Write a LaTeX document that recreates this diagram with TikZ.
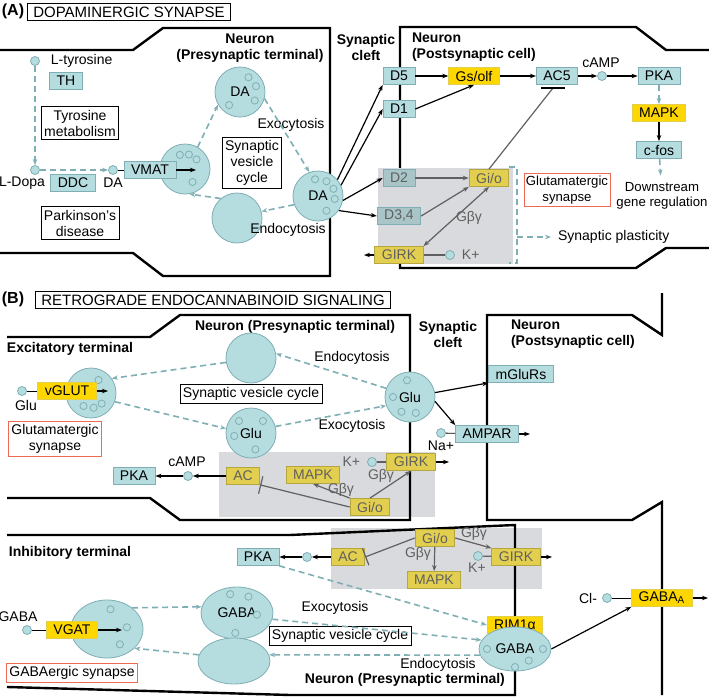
\documentclass[tikz,border=0pt]{standalone}
\usepackage{fontspec}
\setmainfont{Liberation Sans}
\usetikzlibrary{shapes.geometric,arrows.meta,positioning}
\definecolor{tealfill}{HTML}{B5DCDF}
\definecolor{tealline}{HTML}{7FAFB4}
\definecolor{gold}{HTML}{FFD700}
\definecolor{dimgold}{HTML}{E3CF4F}
\definecolor{dimteal}{HTML}{A9C5C8}
\definecolor{greyarea}{HTML}{D9DADD}
\definecolor{redline}{HTML}{EE6A52}
\definecolor{dimtext}{HTML}{606060}
\tikzset{
  box/.style={draw=tealline,fill=tealfill,inner xsep=3.5pt,inner ysep=0.6pt,minimum height=8.5pt},
  ybox/.style={box,fill=gold,draw=dimgold},
  gybox/.style={box,fill=dimgold,draw=dimgold!80!black,text=dimtext},
  gtbox/.style={box,fill=dimteal,draw=tealline,text=dimtext},
  dot/.style={circle,fill=tealfill,draw=tealline,inner sep=0pt,minimum size=4.5pt},
  ves/.style={circle,fill=tealfill,draw=tealline,inner sep=0pt,minimum size=25pt},
  oves/.style={ellipse,fill=tealfill,draw=tealline,inner sep=0pt,minimum width=36pt,minimum height=26pt},
  frame/.style={draw=black,fill=white,align=center,inner sep=1.5pt},
  rframe/.style={frame,draw=redline},
  ttl/.style={font=\fontsize{7}{8}\selectfont\bfseries,align=center},
  flow/.style={-{Stealth[length=3pt,open]},dashed,tealline,thick,dash pattern=on 3pt off 2pt},
  act/.style={-{Stealth[length=3pt]},semithick},
  gact/.style={act,dimtext},
  mem/.style={line width=1.2pt},
}
\newcommand{\vesdots}[3][7.5pt]{\foreach \ang in {#3} \draw[tealline,fill=tealfill] ([shift={(\ang:#1)}]#2.center) circle (1.8pt);}
\begin{document}
\begin{tikzpicture}[x=0.5pt,y=-0.5pt,font=\fontsize{7}{8}\selectfont]
\useasboundingbox (0,0) rectangle (709,697);

% ---------- panel A ----------
\node[font=\bfseries\fontsize{8}{9}\selectfont] (alab) at (13,11) {(A)};
\node[frame,font=\fontsize{7.5}{8.5}\selectfont,inner xsep=3pt] (atitle) at (129,12) {DOPAMINERGIC SYNAPSE};
\draw[mem] (0,50) -- (133,50) -- (163,28) -- (330,28) -- (330,276) -- (163,276) -- (133,253) -- (0,253);
\draw[mem] (709,50) -- (666,50) -- (636,27) -- (400,27) -- (400,268) -- (636,268) -- (666,248) -- (709,248);
\fill[greyarea] (378,168) rectangle (513,264);
\node[ttl] (apre) at (250,48) {Neuron\\(Presynaptic terminal)};
\node[ttl] (acleft) at (366,47) {Synaptic\\cleft};
\node[ttl,align=left,anchor=west] (apost) at (405,47) {Neuron\\(Postsynaptic cell)};

\node[dot] (tyr) at (35,61) {};
\node[right=2pt of tyr] (tyrl) {L-tyrosine};
\node[box,minimum width=16pt] (th) at (66,81) {TH};
\node[frame] (tyrmet) at (80,123) {Tyrosine\\metabolism};
\node[dot] (dopa) at (35,170) {};
\node (dopal) at (22,183) {L-Dopa};
\node[box] (ddc) at (73,183) {DDC};
\node[dot] (dadot) at (113,170) {};
\node (dal) at (113,183) {DA};
\node[frame] (park) at (80,223) {Parkinson's\\disease};
\node[ves] (vfill) at (185,169) {};
\vesdots{vfill}{40,75,110,-60}
\node[box] (vmat) at (150,170) {VMAT};
\coordinate (vmatend) at (196,170);
\node[ves] (vtop) at (240,92) {DA};
\vesdots[8.5pt]{vtop}{60,20,-30,-130}
\node[frame] (asvc) at (252,163) {Synaptic\\vesicle\\cycle};
\node[ves] (vempty) at (237,218) {};
\node[ves] (vrel) at (318,196) {DA};
\vesdots[8.5pt]{vrel}{60,100,25,-10,-60}
\node (aexo) at (291,125) {Exocytosis};
\node (aendo) at (288,230) {Endocytosis};

\draw[flow] (tyr) -- (dopa);
\draw[flow] (dopa) -- (dadot);
\draw (dadot) -- (vmat);
\draw[act] (vmat) -- (vmatend);
\draw[flow] (vfill.60) -- (vtop.210);
\draw[flow] (vtop.-15) -- (vrel.110);
\draw[flow] (vrel.200) -- (vempty.15);
\draw[flow] (vempty.130) -- (vfill.-80);

\node[box] (d5) at (399,76) {D5};
\node[box] (d1) at (399,109) {D1};
\node[gtbox] (d2) at (399,178) {D2};
\node[gtbox] (d34) at (399,216) {D3,4};
\node[gybox] (girka) at (399,255) {GIRK};
\node[dot] (ka) at (450,255) {};
\node[right=0pt of ka,text=dimtext] (kal) {K+};
\coordinate (girkout) at (364,255);
\node[ybox] (gsolf) at (474,76) {Gs/olf};
\node[box] (ac5) at (557,76) {AC5};
\node[dot] (campa) at (602,76) {};
\node (campal) at (601,63) {cAMP};
\node[box] (pkaa) at (659,76) {PKA};
\node[ybox] (mapka) at (659,113) {MAPK};
\node[box] (cfos) at (659,150) {c-fos};
\node[align=center,font=\fontsize{6.6}{7.6}\selectfont] (down) at (662,196) {Downstream\\gene regulation};
\node[gybox] (gioa) at (489,178) {Gi/o};
\node[text=dimtext] (gbga) at (469,218) {Gβγ};
\coordinate (acbar) at (553,88);
\node[rframe,font=\fontsize{6.6}{7.6}\selectfont,inner xsep=1pt] (glua) at (567,190) {Glutamatergic\\synapse};
\coordinate (brtop) at (517,167);
\coordinate (brbot) at (517,263);
\coordinate (brmid) at (517,237);
\node[anchor=west] (plast) at (551,237) {Synaptic plasticity};

\draw[act] (vrel.40) -- (d5.south west);
\draw[act] (vrel.25) -- (d1.west);
\draw[act] (vrel.-10) -- (d2.west);
\draw[act] (vrel.-35) -- (d34.west);
\draw[act] (d5) -- (gsolf);
\draw[act] (d1.east) -- (gsolf.south);
\draw[act] (gsolf) -- (ac5);
\draw[act] (ac5) -- (campa);
\draw[act] (campa) -- (pkaa);
\draw[flow] (pkaa) -- (mapka);
\draw[act] (mapka) -- (cfos);
\draw[flow] (cfos) -- (down);
\draw[gact] (d2) -- (gioa);
\draw[gact] (d34.east) -- (gioa.south west);
\draw[dimtext,semithick] (gioa.north) -- (acbar);
\draw[semithick] ([xshift=-6pt]acbar) -- ([xshift=6pt]acbar);
\draw[gact,{Stealth[length=3pt]}-{Stealth[length=3pt]}] (gioa.south) -- (girka.north east);
\draw[dimtext,semithick] (ka) -- (girka);
\draw[act] (girka) -- (girkout);
\draw[tealline,thick,dash pattern=on 3pt off 2pt] ([xshift=-4]brtop) -- (brtop) -- (brbot) -- ([xshift=-4]brbot);
\draw[flow] (brmid) -- (plast);

% ---------- panel B ----------
\node[font=\bfseries\fontsize{8}{9}\selectfont] (blab) at (13,299) {(B)};
\node[frame,font=\fontsize{7.5}{8.5}\selectfont,inner xsep=3pt] (btitle) at (213,300) {RETROGRADE ENDOCANNABINOID SIGNALING};
\fill[greyarea] (219,452) rectangle (435,517);
\fill[greyarea] (331,528) rectangle (542,589);
\draw[mem] (7,337) -- (150,337) -- (180,315) -- (410,315) -- (410,520) -- (180,520) -- (150,498) -- (7,498);
\draw[mem] (662,293) -- (662,335) -- (632,315) -- (487,315) -- (487,520) -- (632,520) -- (662,502) -- (662,695);
\draw[mem] (7,535) -- (290,535) -- (515,525) -- (515,695) -- (290,695) -- (7,687);
\node[ttl] (bpre) at (295,327) {Neuron (Presynaptic terminal)};
\node[ttl] (bcleft) at (448,334) {Synaptic\\cleft};
\node[ttl,align=left,anchor=west] (bpost) at (504,334) {Neuron\\(Postsynaptic cell)};
\node[ttl] (exterm) at (70,349) {Excitatory terminal};

\node[dot] (gludot) at (22,391) {};
\node (glul) at (26,405) {Glu};
\node[ves] (vglu1) at (91,393) {};
\vesdots{vglu1}{60,-45,-80,-120}
\node[ybox] (vglut) at (67,391) {vGLUT};
\coordinate (vglutend) at (108,391);
\node[rframe] (glub) at (55,439) {Glutamatergic\\synapse};
\node[ves] (vglu2) at (251,358) {};
\node[frame] (bsvc) at (251,394) {Synaptic vesicle cycle};
\node[ves] (vglu3) at (251,433) {Glu};
\vesdots[8.5pt]{vglu3}{45,135,190,-75}
\node[ves] (vglu4) at (410,397) {Glu};
\vesdots[8.5pt]{vglu4}{100,180,-120,-70}
\node (bendo) at (352,358) {Endocytosis};
\node (bexo) at (352,426) {Exocytosis};
\node[box] (mglur) at (521,374) {mGluRs};
\node[box] (ampar) at (487,434) {AMPAR};
\coordinate (amparend) at (530,434);
\node[dot] (nadot) at (441,433) {};
\node (nal) at (441,446) {Na+};

\node[box] (pkab) at (134,476) {PKA};
\node[dot] (campb) at (188,476) {};
\node (campbl) at (187,462) {cAMP};
\node[gybox] (acb) at (243,476) {AC};
\node[gybox] (mapkb) at (313,475) {MAPK};
\node[gybox] (girkb) at (411,462) {GIRK};
\coordinate (girkbend) at (449,462);
\node[dot] (kb) at (372,462) {};
\node[left=0pt of kb,text=dimtext] (kbl) {K+};
\node[gybox] (giob) at (370,507) {Gi/o};
\node[text=dimtext] (gbgb1) at (341,490) {Gβγ};
\node[text=dimtext] (gbgb2) at (381,476) {Gβγ};

\draw (gludot) -- (vglut);
\draw[act] (vglut) -- (vglutend);
\draw[flow] (vglu4.160) -- (vglu2.10);
\draw[flow] (vglu2.190) -- (vglu1.35);
\draw[flow] (vglu1.-20) -- (vglu3.170);
\draw[flow] (vglu3.15) -- (vglu4.200);
\draw[act] (vglu4.10) -- (mglur.south west);
\draw[act] (vglu4.-10) -- (ampar.north west);
\draw (nadot) -- (ampar);
\draw[act] (ampar) -- (amparend);
\draw[act] (acb) -- (campb);
\draw[act] (campb) -- (pkab);
\draw[dimtext,semithick,-{Bar[width=9pt]}] (giob.west) -- (acb.south east);
\draw[gact] (giob.north west) -- (mapkb.south);
\draw[gact] (giob.north) -- (girkb.south);
\draw[dimtext,semithick] (kb) -- (girkb);
\draw[act] (girkb) -- (girkbend);

\node[ttl] (inhterm) at (70,553) {Inhibitory terminal};
\node[box] (pkac) at (258,557) {PKA};
\node[dot] (campc) at (307,557) {};
\node[gybox] (acc) at (348,557) {AC};
\node[gybox] (gioc) at (435,538) {Gi/o};
\node[text=dimtext] (gbgc1) at (474,534) {Gβγ};
\node[text=dimtext] (gbgc2) at (418,554) {Gβγ};
\node[gybox] (girkc) at (516,557) {GIRK};
\coordinate (girkcend) at (552,557);
\node[dot] (kc) at (478,556) {};
\node[text=dimtext] (kcl) at (477,568) {K+};
\node[gybox] (mapkc) at (434,580) {MAPK};

\node (gabal) at (18,617) {GABA};
\node[dot] (gabadot) at (27,630) {};
\node[oves,minimum height=29pt] (vgaba1) at (107,629) {};
\vesdots[10pt]{vgaba1}{80,5,-50}
\node[ybox] (vgat) at (72,630) {VGAT};
\coordinate (vgatend) at (122,630);
\node[rframe] (gabaerg) at (72,673) {GABAergic synapse};
\node[oves] (vgaba2) at (237,613) {GABA};
\vesdots[10pt]{vgaba2}{110,55,-5,-95}
\node[frame] (csvc) at (340,636) {Synaptic vesicle cycle};
\node[oves,minimum height=23pt] (vgaba3) at (234,661) {};
\node (cexo) at (335,608) {Exocytosis};
\node (cendo) at (438,665) {Endocytosis};
\node[ttl,anchor=east] (cpre) at (512,680) {Neuron (Presynaptic terminal)};
\node[ybox,minimum width=24pt] (rim) at (515,625) {RIM1α};
\node[oves,minimum height=22pt] (vgaba4) at (515,649) {GABA};
\vesdots[14pt]{vgaba4}{0,180}
\vesdots[9pt]{vgaba4}{-90,-40}
\node (cll) at (588,598) {Cl-};
\node[dot] (cldot) at (607,598) {};
\node[ybox,minimum width=30pt] (gabaa) at (662,598) {GABA\textsubscript{A}};
\coordinate (gabaaend) at (708,598);

\draw[act] (acc) -- (campc);
\draw[act] (campc) -- (pkac);
\draw[dimtext,semithick,-{Bar[width=9pt]}] (gioc.west) -- (acc.east);
\draw[gact] (gioc) -- (mapkc);
\draw[gact] (gioc.east) -- (girkc.north west);
\draw[dimtext,semithick] (kc) -- (girkc);
\draw[act] (girkc) -- (girkcend);
\draw (gabadot) -- (vgat);
\draw[act] (vgat) -- (vgatend);
\draw[flow] (vgaba1.40) -- (vgaba2.170);
\draw[flow] (vgaba2.-10) -- (vgaba4.165);
\draw[flow] (pkac.south east) -- (rim.west);
\draw[flow] (vgaba4.190) -- (vgaba3.10);
\draw[flow] (vgaba3.170) -- (vgaba1.-35);
\draw[act] (vgaba4.east) -- (gabaa.south west);
\draw (cldot) -- (gabaa);
\draw[act] (gabaa) -- (gabaaend);
\end{tikzpicture}
\end{document}
